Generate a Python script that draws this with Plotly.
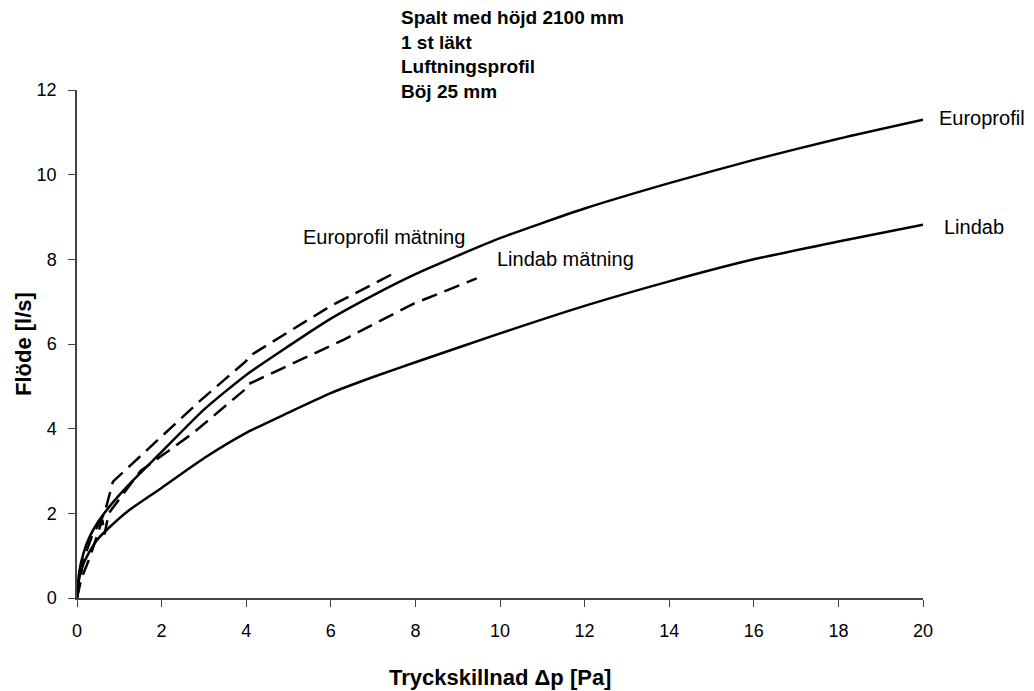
import plotly.graph_objects as go

# Solid model curves
euro_x = [0, 0.05, 0.15, 0.3, 0.5, 0.8, 1.2, 2, 3, 4, 5, 6, 7, 8, 8.8, 10, 12, 14, 16, 18, 20]
euro_y = [0, 0.6, 1.05, 1.45, 1.8, 2.2, 2.65, 3.45, 4.45, 5.27, 5.95, 6.6, 7.15, 7.65, 8.0, 8.5, 9.2, 9.8, 10.35, 10.85, 11.3]

lind_x = [0, 0.05, 0.15, 0.3, 0.5, 0.8, 1.2, 2, 3, 4, 5, 6, 7, 8, 10, 12, 14, 16, 18, 20]
lind_y = [0, 0.45, 0.8, 1.1, 1.4, 1.7, 2.05, 2.6, 3.3, 3.9, 4.38, 4.84, 5.22, 5.57, 6.25, 6.9, 7.48, 8.0, 8.42, 8.82]

# Measured (dashed)
euro_m_x = [0, 0.15, 0.35, 0.65, 0.85, 1.65, 2.9, 4.0, 4.05, 6.0, 7.55]
euro_m_y = [0, 0.9, 1.45, 2.0, 2.75, 3.5, 4.65, 5.6, 5.7, 6.9, 7.7]

lind_m_x = [0, 0.1, 0.3, 0.6, 0.65, 0.75, 1.5, 2.75, 4.0, 4.05, 6.3, 7.95, 9.45]
lind_m_y = [0, 0.45, 0.95, 1.85, 1.5, 2.0, 3.0, 3.9, 4.95, 5.05, 6.1, 6.95, 7.55]

x_ticks = [0, 2, 4, 6, 8, 10, 12, 14, 16, 18, 20]
y_ticks = [0, 2, 4, 6, 8, 10, 12]

FAM = "Liberation Sans, Arial, sans-serif"
axis_font = dict(family=FAM, size=18, color="black")

fig = go.Figure()
fig.add_trace(go.Scatter(x=euro_x, y=euro_y, mode="lines", line=dict(color="black", width=2.5, shape="spline", smoothing=0.6)))
fig.add_trace(go.Scatter(x=lind_x, y=lind_y, mode="lines", line=dict(color="black", width=2.5, shape="spline", smoothing=0.6)))
fig.add_trace(go.Scatter(x=euro_m_x, y=euro_m_y, mode="lines", line=dict(color="black", width=2.5, dash="16px,8px")))
fig.add_trace(go.Scatter(x=lind_m_x, y=lind_m_y, mode="lines", line=dict(color="black", width=2.5, dash="16px,8px")))

fig.update_layout(
    width=1034, height=691,
    margin=dict(l=77, r=111, t=90, b=93),
    plot_bgcolor="white", paper_bgcolor="white",
    showlegend=False,
    font=axis_font,
)
fig.update_xaxes(
    range=[0, 20], tickvals=x_ticks,
    showgrid=False, zeroline=False, showline=True, linecolor="#444", linewidth=1.5,
    ticks="outside", ticklen=7, tickcolor="#444", ticklabelstandoff=9,
)
fig.update_yaxes(
    range=[0, 12], tickvals=y_ticks,
    showgrid=False, zeroline=False, showline=True, linecolor="#444", linewidth=1.5,
    ticks="outside", ticklen=7, tickcolor="#444", ticklabelstandoff=8,
)

W, H = 846, 508
def px(xp):
    return (xp - 77) / W
def py(yp):
    return (598 - yp) / H

title_font = dict(family=FAM, size=22, color="black")
fig.add_annotation(xref="paper", yref="paper", x=0.5, y=py(677), xanchor="center", yanchor="middle",
                   text="<b>Tryckskillnad Δp [Pa]</b>", showarrow=False, font=title_font)
fig.add_annotation(xref="paper", yref="paper", x=px(23), y=py(344), xanchor="center", yanchor="middle",
                   text="<b>Flöde [l/s]</b>", textangle=-90, showarrow=False, font=title_font)

block_font = dict(family=FAM, size=19, color="black")
ann_font = dict(family=FAM, size=20, color="black")
fig.add_annotation(xref="paper", yref="paper", x=px(399), y=py(5), xanchor="left", yanchor="top",
                   text="<b>Spalt med höjd 2100 mm<br>1 st läkt<br>Luftningsprofil<br>Böj 25 mm</b>",
                   showarrow=False, align="left", font=block_font)
fig.add_annotation(xref="paper", yref="paper", x=px(937), y=py(118), text="Europrofil", showarrow=False,
                   xanchor="left", yanchor="middle", font=ann_font)
fig.add_annotation(xref="paper", yref="paper", x=px(942), y=py(227), text="Lindab", showarrow=False,
                   xanchor="left", yanchor="middle", font=ann_font)
fig.add_annotation(xref="paper", yref="paper", x=px(301), y=py(237), text="Europrofil mätning", showarrow=False,
                   xanchor="left", yanchor="middle", font=ann_font)
fig.add_annotation(xref="paper", yref="paper", x=px(495), y=py(259), text="Lindab mätning", showarrow=False,
                   xanchor="left", yanchor="middle", font=ann_font)

fig.write_html("out.html")
